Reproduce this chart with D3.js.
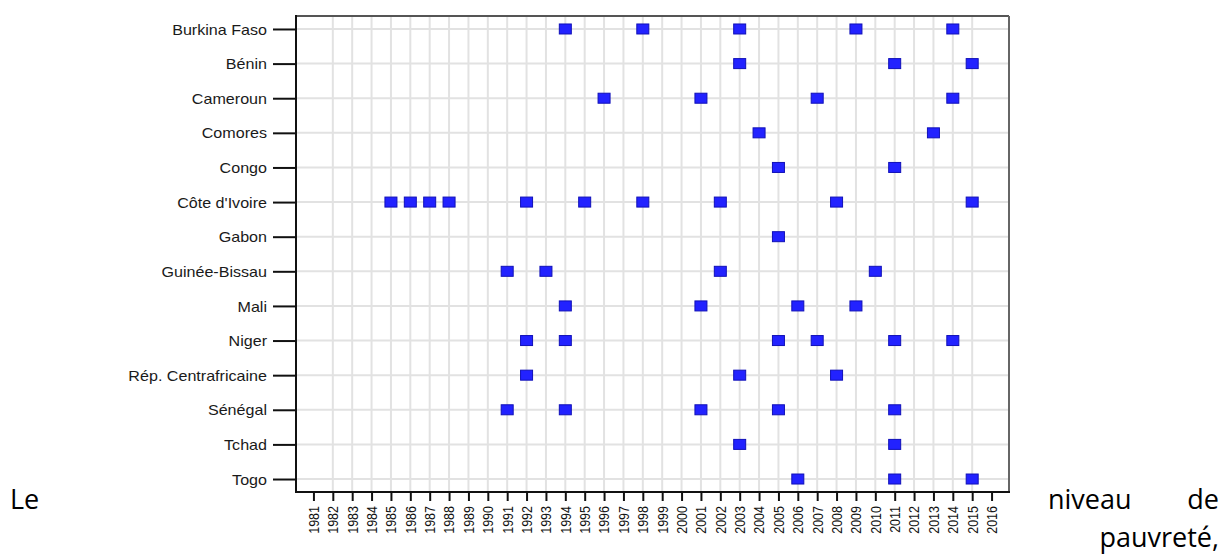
<!DOCTYPE html>
<html>
<head>
<meta charset="utf-8">
<script src="https://cdn.jsdelivr.net/npm/d3@7"></script>
<style>
  html, body { margin: 0; padding: 0; background: #fff; }
  #chart { width: 1224px; height: 556px; overflow: hidden; }
</style>
</head>
<body>
<div id="chart"></div>
<script>
(function () {
    // pays et années d'enquête
    const countries = ["Burkina Faso", "Bénin", "Cameroun", "Comores", "Congo", "Côte d'Ivoire", "Gabon",
        "Guinée-Bissau", "Mali", "Niger", "Rép. Centrafricaine", "Sénégal", "Tchad", "Togo"];
    const surveyYears = [
        [1994, 1998, 2003, 2009, 2014],
        [2003, 2011, 2015],
        [1996, 2001, 2007, 2014],
        [2004, 2013],
        [2005, 2011],
        [1985, 1986, 1987, 1988, 1992, 1995, 1998, 2002, 2008, 2015],
        [2005],
        [1991, 1993, 2002, 2010],
        [1994, 2001, 2006, 2009],
        [1992, 1994, 2005, 2007, 2011, 2014],
        [1992, 2003, 2008],
        [1991, 1994, 2001, 2005, 2011],
        [2003, 2011],
        [2006, 2011, 2015]
    ];
    const tickYears = d3.range(1981, 2017);
    const gridYears = d3.range(1982, 2016);

    const width = 1224, height = 556;
    const left = 296, right = 1009, top = 16, bottom = 492;

    const svg = d3.select("#chart").append("svg")
        .attr("width", width)
        .attr("height", height)
        .attr("viewBox", `0 0 ${width} ${height}`);

    const x = d3.scaleLinear()
        .domain([1980.1, 2016.9])
        .range([left, right]);

    const y = d3.scalePoint()
        .domain(countries)
        .range([top, bottom])
        .padding(0.375);

    // grille
    svg.append("g").selectAll("line").data(gridYears)
        .enter().append("line")
        .attr("x1", d => x(d)).attr("x2", d => x(d))
        .attr("y1", top).attr("y2", bottom)
        .attr("stroke", "#e2e2e2").attr("stroke-width", 2);

    svg.append("g").selectAll("line").data(countries)
        .enter().append("line")
        .attr("x1", left).attr("x2", right)
        .attr("y1", d => y(d)).attr("y2", d => y(d))
        .attr("stroke", "#e2e2e2").attr("stroke-width", 2);

    // cadre
    svg.append("line").attr("x1", left).attr("x2", right).attr("y1", top).attr("y2", top)
        .attr("stroke", "#555").attr("stroke-width", 2);
    svg.append("line").attr("x1", right).attr("x2", right).attr("y1", top).attr("y2", bottom)
        .attr("stroke", "#666").attr("stroke-width", 2);

    // axe Y
    const yAxis = svg.append("g")
        .attr("transform", `translate(${left},0)`)
        .call(d3.axisLeft(y).tickSize(23).tickPadding(6));
    yAxis.select(".domain").attr("stroke", "#111").attr("stroke-width", 2)
        .attr("d", `M0,${top - 1}V${bottom + 1}`);
    yAxis.selectAll(".tick line").attr("stroke", "#111").attr("stroke-width", 2);
    yAxis.selectAll(".tick text")
        .attr("x", null).attr("dy", null)
        .attr("font-family", "Liberation Sans, Arial, sans-serif")
        .attr("font-size", 14)
        .attr("fill", "#1a1a1a")
        .attr("dominant-baseline", "central")
        .attr("transform", "translate(-29,0) scale(1.15,1)");

    // axe X
    const xAxis = svg.append("g")
        .attr("transform", `translate(0,${bottom})`)
        .call(d3.axisBottom(x).tickValues(tickYears).tickFormat(d3.format("d")).tickSize(9));
    xAxis.select(".domain").attr("stroke", "#111").attr("stroke-width", 2)
        .attr("d", `M${left - 1},0H${right + 1}`);
    xAxis.selectAll(".tick line").attr("stroke", "#111").attr("stroke-width", 2);
    xAxis.selectAll(".tick text")
        .attr("y", null).attr("dy", null)
        .attr("font-family", "Liberation Sans, Arial, sans-serif")
        .attr("font-size", 12.5)
        .attr("fill", "#111")
        .attr("text-anchor", "end")
        .attr("dominant-baseline", "central")
        .attr("transform", "translate(0,14) scale(1.2,1) rotate(-90)");

    // points
    const points = countries.flatMap((c, i) => surveyYears[i].map(yr => ({ c, yr })));
    svg.append("g").selectAll("rect").data(points)
        .enter().append("rect")
        .attr("x", d => x(d.yr) - 6)
        .attr("y", d => y(d.c) - 5)
        .attr("width", 12)
        .attr("height", 10)
        .attr("fill", "#2222ff")
        .attr("stroke", "#1010b8")
        .attr("stroke-width", 1);

    // texte environnant
    const txt = svg.append("g")
        .attr("font-family", "Open Sans, sans-serif")
        .attr("font-size", 27)
        .attr("fill", "#000");
    txt.append("text").attr("x", 10).attr("y", 509).text("Le");
    txt.append("text").attr("x", 1048).attr("y", 509).text("niveau");
    txt.append("text").attr("x", 1219).attr("y", 509).attr("text-anchor", "end").text("de");
    txt.append("text").attr("x", 1219).attr("y", 547).attr("text-anchor", "end").text("pauvreté,");
})();
</script>
</body>
</html>
